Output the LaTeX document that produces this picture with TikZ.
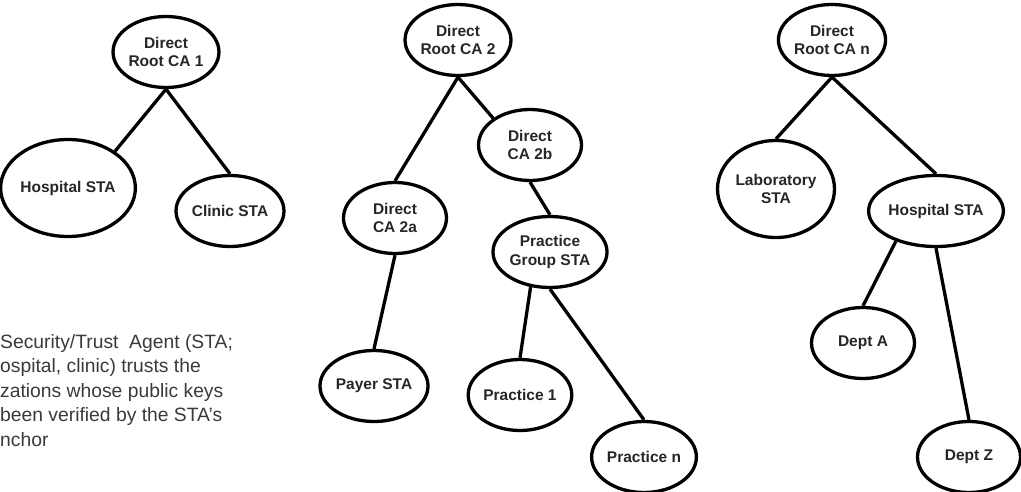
\documentclass[tikz,border=0pt]{standalone}
\usepackage{fontspec}
\setmainfont{Liberation Sans}
\usetikzlibrary{shapes.geometric}
\definecolor{notegray}{HTML}{3A3A3A}

\begin{document}
\begin{tikzpicture}[x=1pt, y=-1pt, font=\fontsize{15.5}{18.5}\selectfont\bfseries,
      ca/.style={ellipse, draw=black, line width=3.3pt, minimum width=103pt, minimum height=71pt, inner sep=0pt, align=center, text=black!85},
      bigca/.style={ca, minimum width=117pt, minimum height=97pt},
      note/.style={font=\fontsize{19.3}{24.5}\selectfont, text=notegray, align=left, inner sep=0pt}]
   \useasboundingbox (0,0) rectangle (1021,492);

      % first root
      \node[ca, name=r1] at (166,52) {Direct\\Root CA 1};
      \node[bigca, name=hosp1] at (68,188) {Hospital STA};
      \node[ca, name=clinic] at (230,211) {Clinic STA};

      % second root
      \node[ca, name=r2] at (458,40) {Direct\\Root CA 2};
      \node[ca, name=ca2a] at (395,218) {Direct\\CA 2a};
      \node[ca, name=ca2b] at (530,145) {Direct\\CA 2b};
      \node[ca, name=payer] at (374,386) {Payer STA};
      \node[ca, name=group] at (550,252) {Practice\\Group STA};
      \node[ca, name=prac1] at (520,395) {Practice 1};
      \node[ca, name=pracn] at (644,457) {Practice n};

      % last root
      \node[ca, name=rn] at (832,40) {Direct\\Root CA n};
      \node[bigca, name=lab] at (776,189) {Laboratory\\STA};
      \node[ca, name=hosp2] at (936,211) {Hospital STA};
      \node[ca, name=depta] at (863,343) {Dept A};
      \node[ca, name=deptz] at (969,457) {Dept Z};

      \node[note, anchor=north west, name=legend] at (0,334) {Security/Trust\ \ Agent (STA;\\ospital, clinic) trusts the\\zations whose public keys\\been verified by the STA’s\\nchor};

      \path[-, line width=3.3pt]
         (r1.south) edge (hosp1.38)
         (r1.south) edge (clinic.north)
         (r2.south) edge (ca2a.north)
         (r2.south) edge (ca2b.144)
         (ca2a.south) edge (payer.north)
         (ca2b.south) edge (group.north)
         (group.241) edge (prac1.north)
         (group.south) edge (pracn.north)
         (rn.south) edge (lab.north)
         (rn.south) edge (hosp2.north)
         (hosp2.217) edge (depta.north)
         (hosp2.south) edge (deptz.north);
   \end{tikzpicture}
\end{document}
